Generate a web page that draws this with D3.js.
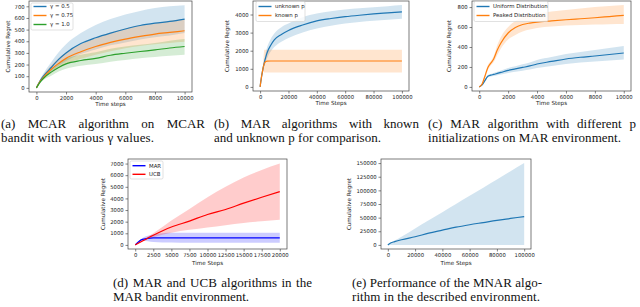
<!DOCTYPE html>
<html><head><meta charset="utf-8">
<script src="https://cdn.jsdelivr.net/npm/d3@7"></script>
<style>
body{margin:0;background:#fff}
svg{display:block}
text{font-family:"DejaVu Sans",sans-serif}
.cap{font-family:"Liberation Serif",serif;font-size:13px;fill:#111}
</style>
</head><body><svg id="c" width="640" height="307"></svg>
<script>
// ---------- (a) MCAR, various gamma ----------
const aX     = [0, 250, 500, 1000, 1500, 2000, 3000, 4000, 5000, 6000, 7000, 8000, 9000, 10000];
const aG05   = [0, 60, 105, 175, 245, 300, 380, 430, 470, 505, 535, 555, 570, 590];
const aG05Lo = [0, 50, 85, 140, 190, 230, 290, 330, 365, 390, 415, 435, 450, 470];
const aG05Hi = [0, 75, 130, 220, 305, 375, 470, 540, 590, 630, 660, 685, 700, 710];
const aG075   = [0, 55, 95, 160, 210, 253, 310, 355, 390, 419, 442, 462, 476, 490];
const aG075Lo = [0, 45, 80, 130, 170, 205, 250, 285, 315, 340, 360, 375, 385, 395];
const aG075Hi = [0, 65, 115, 195, 255, 305, 375, 430, 475, 510, 535, 555, 575, 590];
const aG10   = [0, 50, 85, 135, 175, 206, 235, 253, 280, 297, 312, 326, 342, 355];
const aG10Lo = [0, 40, 70, 105, 140, 165, 190, 205, 225, 240, 255, 265, 275, 285];
const aG10Hi = [0, 60, 100, 160, 210, 250, 285, 305, 335, 355, 370, 385, 405, 420];
const aXTicks = [0, 2000, 4000, 6000, 8000, 10000];
const aYTicks = [0, 100, 200, 300, 400, 500, 600, 700];
const aNames = ["\u03b3 = 0.5", "\u03b3 = 0.75", "\u03b3 = 1.0"];

// ---------- (b) MAR known / unknown p ----------
const bX = [0, 1000, 2000, 3000, 4000, 5000, 7500, 10000, 15000, 20000, 30000, 40000, 50000, 60000, 70000, 80000, 90000, 100000];
const bUnk   = [0, 550, 1000, 1350, 1650, 1900, 2300, 2600, 2900, 3120, 3420, 3650, 3780, 3880, 3960, 4030, 4090, 4150];
const bUnkLo = [0, 480, 850, 1150, 1400, 1600, 1950, 2200, 2500, 2700, 3000, 3220, 3380, 3500, 3580, 3650, 3710, 3760];
const bUnkHi = [0, 620, 1150, 1550, 1900, 2200, 2650, 2950, 3300, 3500, 3850, 4050, 4180, 4270, 4340, 4400, 4460, 4520];
const bKnown   = [0, 550, 1000, 1300, 1400, 1425, 1430, 1430, 1430, 1430, 1430, 1430, 1430, 1430, 1430, 1430, 1430, 1430];
const bKnownLo = [0, 500, 850, 800, 800, 800, 800, 800, 800, 800, 800, 800, 800, 800, 800, 800, 800, 800];
const bKnownHi = [0, 600, 1150, 2050, 2050, 2050, 2050, 2050, 2050, 2050, 2050, 2050, 2050, 2050, 2050, 2050, 2050, 2050];
const bXTicks = [0, 20000, 40000, 60000, 80000, 100000];
const bYTicks = [0, 1000, 2000, 3000, 4000];
const bNames = ["unknown p", "known p"];

// ---------- (c) MAR, p initializations ----------
const cX = [0, 200, 400, 600, 800, 1000, 1250, 1500, 2000, 2500, 3000, 3500, 4000, 5000, 6000, 7000, 8000, 9000, 10000];
const cUni   = [0, 20, 65, 108, 118, 125, 135, 145, 165, 180, 195, 210, 230, 255, 280, 297, 310, 325, 340];
const cUniLo = [0, 15, 55, 95, 105, 110, 118, 125, 140, 152, 163, 175, 190, 210, 230, 245, 255, 265, 275];
const cUniHi = [0, 25, 75, 120, 130, 140, 152, 165, 190, 208, 228, 245, 270, 300, 330, 350, 370, 390, 410];
const cPeak   = [0, 30, 110, 195, 238, 280, 370, 440, 540, 595, 625, 640, 650, 662, 673, 683, 693, 705, 717];
const cPeakLo = [0, 20, 90, 170, 215, 250, 320, 385, 475, 520, 555, 575, 590, 605, 615, 620, 625, 628, 630];
const cPeakHi = [0, 40, 130, 220, 260, 310, 420, 500, 600, 660, 700, 720, 735, 755, 770, 785, 800, 810, 820];
const cXTicks = [0, 2000, 4000, 6000, 8000, 10000];
const cYTicks = [0, 200, 400, 600, 800];
const cNames = ["Uniform Distribution", "Peaked Distribution"];

// ---------- (d) MAR vs UCB ----------
const dX = [0, 1000, 2500, 5000, 7500, 10000, 12500, 15000, 17500, 20000];
const dMAR   = [0, 480, 600, 610, 600, 600, 600, 600, 600, 600];
const dMARLo = [0, 350, 250, 200, 180, 180, 180, 180, 180, 180];
const dMARHi = [0, 600, 900, 1050, 1050, 1050, 1050, 1050, 1050, 1050];
const dUCB   = [0, 340, 830, 1540, 2050, 2620, 3050, 3590, 4100, 4590];
const dUCBLo = [0, 300, 650, 1050, 1300, 1500, 1700, 1880, 2030, 2165];
const dUCBHi = [0, 400, 1000, 2100, 3100, 4100, 5000, 5800, 6450, 7000];
const dXTicks = [0, 2500, 5000, 7500, 10000, 12500, 15000, 17500, 20000];
const dYTicks = [0, 1000, 2000, 3000, 4000, 5000, 6000, 7000];
const dNames = ["MAR", "UCB"];

// ---------- (e) MNAR ----------
const eX = [0, 2000, 5000, 10000, 20000, 30000, 40000, 50000, 60000, 70000, 80000, 90000, 100000];
const eMean = [0, 3500, 6000, 9500, 15000, 21500, 27000, 32500, 37000, 41000, 45000, 48500, 52000];
const eLo   = [0, 0, 0, 0, 0, 0, 0, 0, 0, 0, 0, 0, 0];
const eHi   = [0, 3500, 8000, 15000, 30000, 45000, 60000, 75000, 90000, 105000, 120000, 135000, 150000];
const eXTicks = [0, 20000, 40000, 60000, 80000, 100000];
const eYTicks = [0, 25000, 50000, 75000, 100000, 125000, 150000];

// ---------- captions ----------
const capA = ["(a) MCAR algorithm on MCAR", "bandit with various \u03b3 values."];
const capB = ["(b) MAR algorithms with known", "and unknown p for comparison."];
const capC = ["(c) MAR algorithm with different p", "initializations on MAR environment."];
const capD = ["(d) MAR and UCB algorithms in the", "MAR bandit environment."];
const capE = ["(e) Performance of the MNAR algo-", "rithm in the described environment."];

const C = {blue:"#1f77b4", orange:"#ff7f0e", green:"#2ca02c", pblue:"#0000ff", pred:"#ff0000"};
const svg = d3.select("#c");
svg.append("rect").attr("width",640).attr("height",307).attr("fill","#fff");
const fmt = d3.format("d");
let clipId = 0;

function plot(cfg){
  const {l,r,t,b} = cfg.box;
  const x = d3.scaleLinear().domain(cfg.xd).range([l,r]);
  const y = d3.scaleLinear().domain(cfg.yd).range([b,t]);
  const g = svg.append("g");
  const id = "clip"+(clipId++);
  g.append("clipPath").attr("id",id).append("rect").attr("x",l).attr("y",t).attr("width",r-l).attr("height",b-t);
  const pg = g.append("g").attr("clip-path",`url(#${id})`);
  cfg.series.forEach(s=>{
    const idx = d3.range(s.x.length);
    pg.append("path").datum(idx)
      .attr("d", d3.area().x(i=>x(s.x[i])).y0(i=>y(s.lo[i])).y1(i=>y(s.hi[i])).curve(d3.curveMonotoneX))
      .attr("fill", s.color).attr("fill-opacity", 0.2);
  });
  cfg.series.forEach(s=>{
    const idx = d3.range(s.x.length);
    pg.append("path").datum(idx)
      .attr("d", d3.line().x(i=>x(s.x[i])).y(i=>y(s.y[i])).curve(d3.curveMonotoneX))
      .attr("fill","none").attr("stroke", s.color).attr("stroke-width", 1.2);
  });
  const xa = g.append("g").attr("transform",`translate(0,${b})`)
    .call(d3.axisBottom(x).tickValues(cfg.xt).tickFormat(fmt).tickSize(2.5).tickPadding(1.8));
  const ya = g.append("g").attr("transform",`translate(${l},0)`)
    .call(d3.axisLeft(y).tickValues(cfg.yt).tickFormat(fmt).tickSize(2.5).tickPadding(1.8));
  [xa,ya].forEach(a=>{
    a.select(".domain").remove();
    a.selectAll(".tick line").attr("stroke","#333").attr("stroke-width",0.6);
    a.selectAll(".tick text").attr("fill","#222").style("font-size","5.3px").style("font-family","DejaVu Sans");
  });
  g.append("rect").attr("x",l).attr("y",t).attr("width",r-l).attr("height",b-t)
    .attr("fill","none").attr("stroke","#444").attr("stroke-width",0.7);
  g.append("text").attr("x",(l+r)/2).attr("y",cfg.xly).attr("text-anchor","middle")
    .style("font-size","5.6px").attr("fill","#222").text(cfg.xlabel);
  g.append("text").attr("transform",`translate(${cfg.ylx},${(t+b)/2}) rotate(-90)`).attr("text-anchor","middle")
    .style("font-size","5.6px").attr("fill","#222").text("Cumulative Regret");
  if(cfg.legend){
    const L = cfg.legend;
    g.append("rect").attr("x",L.x).attr("y",L.y).attr("width",L.w).attr("height",L.h).attr("rx",1.5)
      .attr("fill","#fff").attr("fill-opacity",0.8).attr("stroke","#ccc").attr("stroke-width",0.6);
    L.names.forEach((n,i)=>{
      const yy = L.y + L.first + i*L.step;
      g.append("line").attr("x1",L.x+2.5).attr("x2",L.x+15.5).attr("y1",yy).attr("y2",yy)
        .attr("stroke",cfg.series[i].color).attr("stroke-width",1.4);
      g.append("text").attr("x",L.x+19).attr("y",yy+1.9).style("font-size","5.4px").attr("fill","#222").text(n);
    });
  }
}

function caption(lines, x0, colW, w2, y, lh){
  const g = svg.append("g");
  const words = lines[0].split(" ");
  const nodes = words.map(wd=>g.append("text").attr("class","cap").attr("y",y).text(wd));
  const ws = nodes.map(n=>n.node().getComputedTextLength());
  const gap = (colW - d3.sum(ws))/(words.length-1);
  let cx = x0;
  nodes.forEach((n,k)=>{ n.attr("x",cx); cx += ws[k]+gap; });
  g.append("text").attr("class","cap").attr("x",x0).attr("y",y+lh).text(lines[1])
    .attr("textLength", w2).attr("lengthAdjust","spacing");
}

plot({box:{l:29,r:192,t:1,b:92}, xd:[-500,10500], yd:[-35.5,745.5], xt:aXTicks, yt:aYTicks,
  xlabel:"Time steps", xly:106, ylx:9.5,
  series:[
    {x:aX,y:aG05,lo:aG05Lo,hi:aG05Hi,color:C.blue},
    {x:aX,y:aG075,lo:aG075Lo,hi:aG075Hi,color:C.orange},
    {x:aX,y:aG10,lo:aG10Lo,hi:aG10Hi,color:C.green}],
  legend:{x:31,y:3,w:42,h:27,first:3.5,step:9,names:aNames}});

plot({box:{l:253,r:409,t:1,b:91}, xd:[-5000,105000], yd:[-226,4746], xt:bXTicks, yt:bYTicks,
  xlabel:"Time Steps", xly:105, ylx:229,
  series:[
    {x:bX,y:bUnk,lo:bUnkLo,hi:bUnkHi,color:C.blue},
    {x:bX,y:bKnown,lo:bKnownLo,hi:bKnownHi,color:C.orange}],
  legend:{x:256,y:1.5,w:49,h:20,first:5,step:9,names:bNames}});

plot({box:{l:472,r:631,t:1,b:91}, xd:[-500,10500], yd:[-41,861], xt:cXTicks, yt:cYTicks,
  xlabel:"Time Steps", xly:105, ylx:451,
  series:[
    {x:cX,y:cUni,lo:cUniLo,hi:cUniHi,color:C.blue},
    {x:cX,y:cPeak,lo:cPeakLo,hi:cPeakHi,color:C.orange}],
  legend:{x:474,y:1.5,w:74,h:20,first:5,step:9,names:cNames}});

plot({box:{l:128,r:287,t:159,b:249}, xd:[-1000,21000], yd:[-352,7392], xt:dXTicks, yt:dYTicks,
  xlabel:"Time Steps", xly:265, ylx:104.5,
  series:[
    {x:dX,y:dMAR,lo:dMARLo,hi:dMARHi,color:C.pblue},
    {x:dX,y:dUCB,lo:dUCBLo,hi:dUCBHi,color:C.pred}],
  legend:{x:130,y:161,w:33,h:18,first:4.7,step:8.6,names:dNames}});

plot({box:{l:381,r:531,t:159,b:249}, xd:[-5000,105000], yd:[-7500,157500], xt:eXTicks, yt:eYTicks,
  xlabel:"Time Steps", xly:265, ylx:351,
  series:[{x:eX,y:eMean,lo:eLo,hi:eHi,color:C.blue}]});

caption(capA, 1, 204, 153, 127.5, 14);
caption(capB, 214, 205, 167, 127.5, 14);
caption(capC, 428, 208, 193, 127.5, 14);
caption(capD, 113, 199, 136, 286.5, 14);
caption(capE, 352, 190, 188, 286.5, 14);
</script></body></html>
